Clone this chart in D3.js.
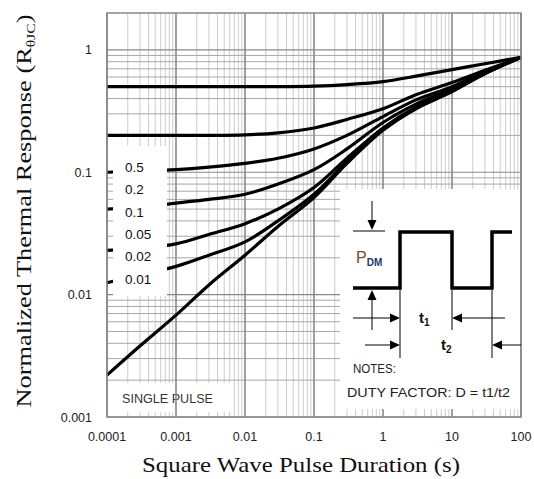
<!DOCTYPE html>
<html><head><meta charset="utf-8">
<script src="https://cdn.jsdelivr.net/npm/d3@7"></script>
<style>html,body{margin:0;padding:0;background:#fff;}svg{display:block;}</style>
</head><body>
<svg id="chart" width="534" height="479"></svg>
<script>
// ---- data ----
const times = [1e-4, 3e-4, 1e-3, 3e-3, 1e-2, 3e-2, 0.1, 0.3, 1, 3, 10, 30, 100];
const d050 = [0.5, 0.5, 0.5, 0.5, 0.5, 0.5, 0.505, 0.52, 0.55, 0.61, 0.69, 0.77, 0.87];
const d020 = [0.2, 0.2, 0.2, 0.2, 0.202, 0.21, 0.23, 0.27, 0.33, 0.43, 0.54, 0.68, 0.87];
const d010 = [0.1, 0.102, 0.105, 0.11, 0.118, 0.13, 0.155, 0.2, 0.285, 0.39, 0.5, 0.66, 0.87];
const d005 = [0.05, 0.052, 0.056, 0.06, 0.066, 0.08, 0.105, 0.155, 0.255, 0.36, 0.48, 0.65, 0.87];
const d002 = [0.023, 0.024, 0.026, 0.031, 0.038, 0.05, 0.075, 0.13, 0.23, 0.34, 0.465, 0.64, 0.87];
const d001 = [0.0125, 0.0145, 0.017, 0.021, 0.027, 0.04, 0.066, 0.122, 0.225, 0.335, 0.46, 0.64, 0.87];
const single = [0.0022, 0.0038, 0.0068, 0.012, 0.021, 0.036, 0.062, 0.118, 0.22, 0.33, 0.455, 0.64, 0.87];
const dutyLabels = ["0.5", "0.2", "0.1", "0.05", "0.02", "0.01"];
const xTickLabels = ["0.0001", "0.001", "0.01", "0.1", "1", "10", "100"];
const yTickLabels = ["0.001", "0.01", "0.1", "1"];

const series = [d050, d020, d010, d005, d002, d001, single];

// ---- layout ----
const svg = d3.select("#chart");
const x = d3.scaleLog().domain([1e-4, 100]).range([107, 521]);
const y = d3.scaleLog().domain([0.001, 2]).range([417, 13]);
const isMajor = v => Math.abs(Math.log10(v) - Math.round(Math.log10(v))) < 1e-9;

const gGrid = svg.append("g");
const xt = x.ticks();
const yt = y.ticks().filter(v => v <= 1.0000001);

// minor vertical
gGrid.selectAll(".vmin").data(xt.filter(v => !isMajor(v))).join("line")
  .attr("x1", d => x(d)).attr("x2", d => x(d)).attr("y1", y(2)).attr("y2", y(0.001))
  .attr("stroke", "#cccccc").attr("stroke-width", 1);
// minor horizontal
gGrid.selectAll(".hmin").data(yt.filter(v => !isMajor(v))).join("line")
  .attr("x1", x(1e-4)).attr("x2", x(100)).attr("y1", d => y(d)).attr("y2", d => y(d))
  .attr("stroke", "#a8a8a8").attr("stroke-width", 1);
// major horizontal
gGrid.selectAll(".hmaj").data(yt.filter(v => isMajor(v))).join("line")
  .attr("x1", x(1e-4)).attr("x2", x(100)).attr("y1", d => y(d)).attr("y2", d => y(d))
  .attr("stroke", "#888").attr("stroke-width", 1.2);

// single pulse label box (under major lines)
const spBox = svg.append("g");
spBox.append("rect").attr("x", x(1e-4) + 5).attr("y", 383).attr("width", 120).attr("height", 29).attr("fill", "#fff");

// major vertical
svg.append("g").selectAll("line").data(xt.filter(v => isMajor(v))).join("line")
  .attr("x1", d => x(d)).attr("x2", d => x(d)).attr("y1", y(2)).attr("y2", y(0.001))
  .attr("stroke", "#888").attr("stroke-width", 1.6);

spBox.raise();
spBox.append("text").attr("x", 122).attr("y", 403).text("SINGLE PULSE")
  .attr("font-family", "Liberation Sans, Arial, sans-serif").attr("font-size", 12.5).attr("fill", "#333")
  .attr("textLength", 91).attr("lengthAdjust", "spacingAndGlyphs");
svg.append("line").attr("x1", x(0.001)).attr("x2", x(0.001)).attr("y1", 383).attr("y2", 412)
  .attr("stroke", "#888").attr("stroke-width", 1.6);

// ---- curves ----
const line = d3.line().x((d, i) => x(times[i])).y(d => y(d)).curve(d3.curveCatmullRom.alpha(0.5));
svg.append("g").selectAll("path").data(series).join("path")
  .attr("d", d => line(d)).attr("fill", "none").attr("stroke", "#000").attr("stroke-width", 3.2)
  .attr("stroke-linejoin", "round");

// ---- legend box ----
const sans = "Liberation Sans, Arial, sans-serif";
const lg = svg.append("g");
lg.append("rect").attr("x", 113).attr("y", 146).attr("width", 54).attr("height", 150).attr("fill", "#fff");
lg.selectAll("text").data(dutyLabels).join("text")
  .attr("x", 125).attr("y", (d, i) => 172 + i * 22.3).text(d => d)
  .attr("font-family", sans).attr("font-size", 13.5).attr("fill", "#111");

// ---- frame ----
svg.append("rect").attr("x", x(1e-4)).attr("y", y(2)).attr("width", x(100) - x(1e-4)).attr("height", y(0.001) - y(2))
  .attr("fill", "none").attr("stroke", "#888").attr("stroke-width", 1.5);

// ---- inset ----
const ins = svg.append("g").attr("transform", "translate(340,180)");
ins.append("rect").attr("x", 0).attr("y", 9).attr("width", x(100) - 340 - 1).attr("height", 220).attr("fill", "#fff");
ins.append("path").attr("d", "M13,108 H60 V52 H112 V108 H152 V52 H172")
  .attr("fill", "none").attr("stroke", "#000").attr("stroke-width", 3.5);
function ln(x1, y1, x2, y2) {
  ins.append("line").attr("x1", x1).attr("y1", y1).attr("x2", x2).attr("y2", y2).attr("stroke", "#000").attr("stroke-width", 1);
}
function head(tx, ty, dir) {
  const L = 10, W = 4.5;
  let pts;
  if (dir === "down") pts = [[tx, ty], [tx - W, ty - L], [tx + W, ty - L]];
  if (dir === "up") pts = [[tx, ty], [tx - W, ty + L], [tx + W, ty + L]];
  if (dir === "right") pts = [[tx, ty], [tx - L, ty - W], [tx - L, ty + W]];
  if (dir === "left") pts = [[tx, ty], [tx + L, ty - W], [tx + L, ty + W]];
  ins.append("polygon").attr("points", pts.map(p => p.join(",")).join(" ")).attr("fill", "#000");
}
ln(32, 21, 32, 42); head(32, 50, "down"); ln(13, 51, 45, 51);
head(32, 110, "up"); ln(32, 118, 32, 150);
ln(60, 110, 60, 178); ln(112, 110, 112, 150); ln(152, 110, 152, 178);
ln(13, 138, 52, 138); head(60, 138, "right");
ln(120, 138, 165, 138); head(112, 138, "left");
ln(25, 165, 52, 165); head(60, 165, "right");
ln(160, 165, 181, 165); head(152, 165, "left");

const pdm = ins.append("text").attr("x", 16).attr("y", 83).attr("font-family", sans).attr("font-size", 16);
pdm.append("tspan").text("P").attr("fill", "#7a4a26");
pdm.append("tspan").text("DM").attr("font-size", 10).attr("dy", 3).attr("fill", "#24346e").attr("font-weight", "bold");

const t1 = ins.append("text").attr("x", 79).attr("y", 143).attr("font-family", sans).attr("font-size", 15).attr("fill", "#111").attr("font-weight", "bold");
t1.append("tspan").text("t");
t1.append("tspan").text("1").attr("font-size", 10).attr("dy", 3);
const t2 = ins.append("text").attr("x", 101).attr("y", 170).attr("font-family", sans).attr("font-size", 15).attr("fill", "#111").attr("font-weight", "bold");
t2.append("tspan").text("t");
t2.append("tspan").text("2").attr("font-size", 10).attr("dy", 3);

svg.append("text").attr("x", 353).attr("y", 373).text("NOTES:").attr("font-family", sans).attr("font-size", 12.5).attr("fill", "#222")
  .attr("textLength", 43).attr("lengthAdjust", "spacingAndGlyphs");
svg.append("text").attr("x", 347).attr("y", 397).text("DUTY FACTOR: D = t1/t2").attr("font-family", sans).attr("font-size", 13).attr("fill", "#222")
  .attr("textLength", 163).attr("lengthAdjust", "spacingAndGlyphs");

// ---- axis tick labels ----
const xMaj = xt.filter(v => isMajor(v));
svg.append("g").selectAll("text").data(xMaj).join("text")
  .attr("x", d => x(d)).attr("y", 441).attr("text-anchor", "middle").text((d, i) => xTickLabels[i])
  .attr("font-family", sans).attr("font-size", 12.5).attr("fill", "#222");
const yMaj = yt.filter(v => isMajor(v));
svg.append("g").selectAll("text").data(yMaj).join("text")
  .attr("x", 92).attr("y", d => y(d) + 4.5).attr("text-anchor", "end").text((d, i) => yTickLabels[i])
  .attr("font-family", sans).attr("font-size", 12.5).attr("fill", "#222");

// ---- axis titles ----
const serif = "Liberation Serif, Times New Roman, serif";
svg.append("text").attr("x", 301).attr("y", 472).attr("text-anchor", "middle")
  .attr("font-family", serif).attr("font-size", 22).attr("fill", "#111")
  .attr("textLength", 318).attr("lengthAdjust", "spacingAndGlyphs")
  .text("Square Wave Pulse Duration (s)");
const yt2 = svg.append("text").attr("transform", "translate(31,211) rotate(-90)").attr("text-anchor", "middle")
  .attr("font-family", serif).attr("font-size", 22).attr("fill", "#111");
yt2.append("tspan").text("Normalized Thermal Response (R");
yt2.append("tspan").text("θJC").attr("font-size", 13).attr("dy", 4);
yt2.append("tspan").text(")").attr("dy", -4);
const len = yt2.node().getComputedTextLength();
yt2.attr("transform", `translate(31,211) rotate(-90) scale(${393 / len},1)`);
</script>
</body></html>
